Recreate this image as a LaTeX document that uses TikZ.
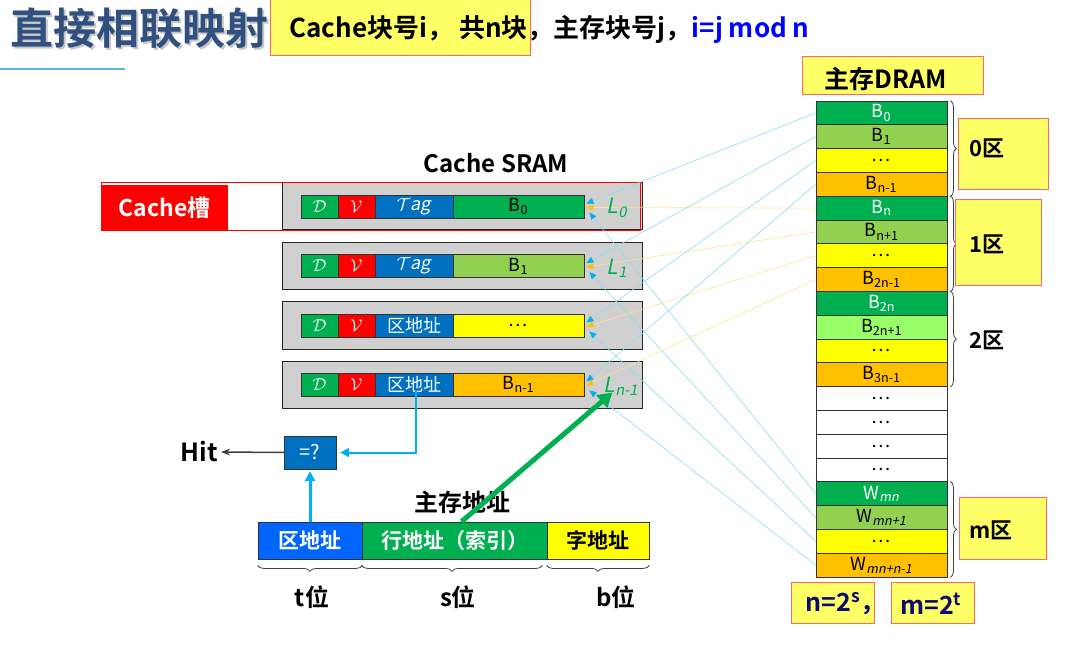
\documentclass[tikz,border=0pt]{standalone}
\usepackage{fontspec}
\setmainfont{Noto Sans CJK SC}[BoldFont={Noto Sans CJK SC Bold},AutoFakeSlant=0.2]
\usetikzlibrary{arrows.meta,decorations.pathreplacing,calc}

\definecolor{titleblue}{HTML}{30507F}
\definecolor{memo}{HTML}{FFFF66}
\definecolor{memoline}{HTML}{FF6666}
\definecolor{dgreen}{HTML}{00B050}
\definecolor{lgreen}{HTML}{92D050}
\definecolor{pgreen}{HTML}{99FF66}
\definecolor{yel}{HTML}{FFFF00}
\definecolor{org}{HTML}{FFC000}
\definecolor{fblue}{HTML}{0070C0}
\definecolor{abblue}{HTML}{0066FF}
\definecolor{sky}{HTML}{00B0F0}
\definecolor{slot}{HTML}{D0D0D0}
\definecolor{navy}{HTML}{0A0A70}
\definecolor{rulecol}{HTML}{5BB5D8}

\newcommand{\fs}[1]{\fontsize{#1}{#1}\selectfont}

\tikzset{
  memobox/.style={draw=memoline, fill=memo, line width=1pt, inner sep=0pt},
  row/.style={draw=black!80, line width=0.8pt, minimum width=131pt, minimum height=23.8pt, inner sep=0pt, font=\fs{18}},
  field/.style={draw=black!80, line width=0.8pt, minimum height=23pt, inner sep=0pt, font=\fs{18}},
  slotbox/.style={draw=black!85, fill=slot, line width=1pt, minimum width=360pt, minimum height=47pt, inner sep=0pt},
  skyline/.style={draw=sky!45, line width=0.6pt, -{Triangle[length=7pt,width=6pt,color=sky]}},
  orgline/.style={draw=org!45, line width=0.6pt, -{Triangle[length=7pt,width=6pt,color=org]}},
  brc/.style={decorate, decoration={brace, amplitude=6pt}, draw=black!75, line width=0.8pt},
  lbl/.style={font=\bfseries\fs{22}},
  lname/.style={text=dgreen, font=\itshape\fs{21}},
}

\begin{document}
\begin{tikzpicture}[x=1pt, y=-1pt]
  \useasboundingbox (0,0) rectangle (1076,652);

  % title and header line
  \node[anchor=west, font=\bfseries\fs{43}, text=black!22] (titleshadow) at (9,30) {直接相联映射};
  \node[anchor=west, font=\bfseries\fs{43}, text=titleblue] (title) at (7,28) {直接相联映射};
  \draw[rulecol, line width=1.5pt] (0,69) -- (125,69);
  \node[memobox, minimum width=260pt, minimum height=56pt] (hdrbox) at (400,28) {};
  \node[anchor=base west, font=\bfseries\fs{26}] (hdr) at (286,38)
    {Cache块号i，\ 共n块，主存块号j，\textcolor{blue}{i=j mod n}};

  % main memory
  \node[memobox, minimum width=181pt, minimum height=38pt] (dramhdr) at (892.5,76) {};
  \node[font=\bfseries\fs{25}] (dramlbl) at (886,79) {主存DRAM};
  \foreach \lab/\col/\tc [count=\i from 0] in {
      {B\textsubscript{0}}/dgreen/white, {B\textsubscript{1}}/lgreen/black, {\dots}/yel/black, {B\textsubscript{n-1}}/org/black,
      {B\textsubscript{n}}/dgreen/white, {B\textsubscript{n+1}}/lgreen/black, {\dots}/yel/black, {B\textsubscript{2n-1}}/org/black,
      {B\textsubscript{2n}}/dgreen/white, {B\textsubscript{2n+1}}/pgreen/black, {\dots}/yel/black, {B\textsubscript{3n-1}}/org/black,
      {\dots}/white/black, {\dots}/white/black, {\dots}/white/black, {\dots}/white/black,
      {W\textsubscript{\itshape mn}}/dgreen/white, {W\textsubscript{\itshape mn+1}}/lgreen/black, {\dots}/yel/black, {W\textsubscript{\itshape mn+n-1}}/org/black}
    \node[row, fill=\col, text=\tc] (d\i) at (881.5, 112.9+23.8*\i) {\lab};

  \draw[brc] ($(d0.north east)+(3,0)$) -- ($(d3.south east)+(3,0)$);
  \draw[brc] ($(d4.north east)+(3,0)$) -- ($(d7.south east)+(3,0)$);
  \draw[brc] ($(d8.north east)+(3,0)$) -- ($(d11.south east)+(3,0)$);
  \draw[brc] ($(d16.north east)+(3,0)$) -- ($(d19.south east)+(3,0)$);

  \node[memobox, minimum width=90pt, minimum height=71pt] (z0box) at (1003,154.5) {};
  \node[memobox, minimum width=86pt, minimum height=86pt] (z1box) at (998,243) {};
  \node[memobox, minimum width=87pt, minimum height=62pt] (zmbox) at (1002.5,528) {};
  \node[lbl, anchor=west] (z0) at (966,148) {0区};
  \node[lbl, anchor=west] (z1) at (966,244) {1区};
  \node[lbl, anchor=west] (z2) at (966,340) {2区};
  \node[lbl, anchor=west] (zm) at (966,530) {m区};

  \node[memobox, minimum width=83pt, minimum height=41pt] (nbox) at (832.5,602.5) {};
  \node[memobox, minimum width=83pt, minimum height=41pt] (mbox) at (932.5,602.5) {};
  \node[anchor=west, font=\bfseries\fs{25}, text=navy] (ntext) at (802,604) {n=2\textsuperscript{s}，};
  \node[font=\bfseries\fs{25}, text=navy] (mtext) at (931,604) {m=2\textsuperscript{t}};

  % cache
  \node[font=\bfseries\fs{24}] (sramlbl) at (496,163) {Cache SRAM};
  \foreach \y/\tg/\blk/\col [count=\k from 0] in {
      206.5/{$\mathcal{T}$\textit{ag}}/{B\textsubscript{0}}/dgreen,
      266/{$\mathcal{T}$\textit{ag}}/{B\textsubscript{1}}/lgreen,
      325.5/{区地址}/{\dots}/yel,
      384.5/{区地址}/{B\textsubscript{n-1}}/org}{
    \node[slotbox] (s\k) at (462,\y) {};
    \node[field, fill=dgreen, minimum width=37pt, text=white] (fd\k) at (319.5,\y) {$\mathcal{D}$};
    \node[field, fill=red, minimum width=37pt, text=white] (fv\k) at (356.5,\y) {$\mathcal{V}$};
    \node[field, fill=fblue, minimum width=78pt, text=white] (t\k) at (414,\y) {\tg};
    \node[field, fill=\col, minimum width=131pt] (b\k) at (518.5,\y) {\blk};
  }
  \draw[red, line width=1pt] (101,183) rectangle (640,231);
  \node[fill=red, text=white, font=\bfseries\fs{23}, minimum width=127pt, minimum height=45pt, inner sep=0pt] (slotname) at (164.5,207.5) {Cache槽};

  % mapping lines
  \foreach \k/\m/\w in {0/4/16, 1/5/17, 2/6/18, 3/7/19}{
    \draw[skyline] (d\k.west) -- ($(b\k.east)+(2,-3)$);
    \draw[orgline] (d\m.west) -- ($(b\k.east)+(2,1)$);
    \draw[skyline] (d\w.west) -- ($(b\k.east)+(5,6)$);
  }
  \node[lname] (l0) at (617,208) {L\textsubscript{0}};
  \node[lname] (l1) at (617,268) {L\textsubscript{1}};
  \node[lname] (l3) at (621,386) {L\textsubscript{n-1}};

  % address
  \node[font=\bfseries\fs{24}] (addrlbl) at (462,502) {主存地址};
  \node[field, minimum height=37pt, minimum width=104pt, fill=abblue, text=white, font=\bfseries\fs{21}] (za) at (310,540.5) {区地址};
  \node[field, minimum height=37pt, minimum width=185pt, fill=dgreen, text=white, font=\bfseries\fs{21}] (ha) at (454.5,540.5) {行地址（索引）};
  \node[field, minimum height=37pt, minimum width=102pt, fill=yel, font=\bfseries\fs{21}] (wa) at (598,540.5) {字地址};
  \draw[brc, decoration={mirror}] ($(za.south west)+(0,6)$) -- ($(za.south east)+(0,6)$);
  \draw[brc, decoration={mirror}] ($(ha.south west)+(0,6)$) -- ($(ha.south east)+(-5,6)$);
  \draw[brc, decoration={mirror}] ($(wa.south west)+(0,6)$) -- ($(wa.south east)+(0,6)$);
  \node[font=\bfseries\fs{24}] (tbits) at (312,597) {t位};
  \node[font=\bfseries\fs{24}] (sbits) at (458,597) {s位};
  \node[font=\bfseries\fs{24}] (bbits) at (616,597) {b位};

  % compare
  \node[draw=black!80, fill=fblue, text=white, minimum width=52pt, minimum height=33pt, inner sep=0pt, font=\fs{20}] (eq) at (310,452.5) {=?};
  \node[font=\bfseries\fs{25}] (hit) at (199,452) {Hit};
  \draw[black!75, line width=1.5pt, -{Stealth[length=9pt]}] (eq.west) -- (hit.east);
  \draw[sky, line width=2pt, -{Triangle[length=9pt,width=9pt]}] ($(t3.center)+(2,6)$) |- ($(eq.east)+(4,0)$);
  \draw[sky, line width=3pt, -{Triangle[length=10pt,width=10pt]}] (za.north) -- ($(eq.south)+(0,2)$);
  \coordinate (lend) at ($(b3.east)+(28,8)$);
  \draw[dgreen, line width=5pt, -{Triangle[length=14pt,width=16pt]}] ($(ha.north west)+(100,0)$) -- (lend);
\end{tikzpicture}
\end{document}
